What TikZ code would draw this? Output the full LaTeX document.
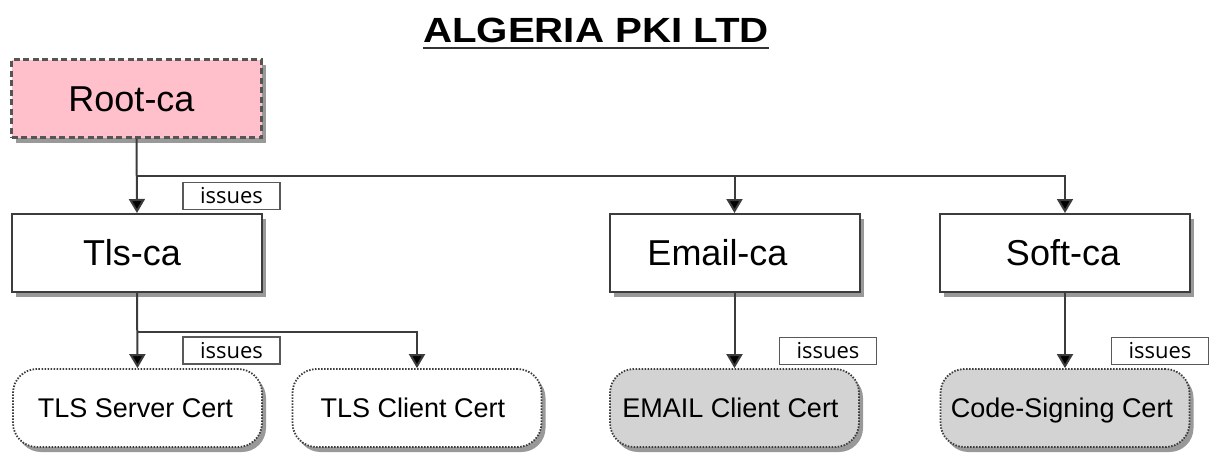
\documentclass[tikz,border=0pt]{standalone}
\usepackage{fontspec}
\setmainfont{Liberation Sans}
\newfontfamily\issuefont{Open Sans}
\usetikzlibrary{shadows,arrows.meta}
\definecolor{rootpink}{RGB}{255,192,203}
\definecolor{edgegrey}{RGB}{60,60,60}
\definecolor{dashgrey}{RGB}{85,85,85}
\definecolor{certgrey}{RGB}{211,211,211}
\tikzset{
  shad/.style={drop shadow={shadow xshift=4pt,shadow yshift=-5pt,fill=black,opacity=0.4}},
  cabox/.style={draw=edgegrey,line width=2pt,fill=white,shad,minimum width=250pt,minimum height=78pt,inner sep=0pt,text height=25pt,text depth=0pt,font=\fontsize{36}{40}\selectfont},
  rootbox/.style={cabox,draw=dashgrey,fill=rootpink,dash pattern=on 6pt off 3.5pt,line width=2.4pt},
  certbox/.style={draw=edgegrey,line width=1.8pt,dash pattern=on 1.5pt off 1.5pt,rounded corners=24pt,fill=white,shad,minimum width=249pt,minimum height=78pt,inner sep=0pt,text height=19.5pt,text depth=0pt,font=\fontsize{27}{30}\selectfont},
  certgreybox/.style={certbox,fill=certgrey},
  issuebox/.style={draw=edgegrey!85,line width=1.6pt,fill=white,minimum width=97pt,minimum height=27pt,inner sep=0pt,font=\issuefont\fontsize{22}{24}\selectfont},
  conn/.style={draw=edgegrey,line width=2pt},
  arr/.style={conn,-{Triangle[width=16pt,length=14pt,fill=black]}}
}
\begin{document}
\begin{tikzpicture}[x=1pt,y=-1pt]
\useasboundingbox (0,0) rectangle (1209,453);
\node[font=\bfseries\fontsize{35}{38}\selectfont,inner sep=0pt,anchor=base] (title) at (596,42) {\scalebox{1.15}[1]{ALGERIA PKI LTD}};
\draw[line width=2pt,draw=black!80] ([yshift=-6pt]title.base west) -- ([yshift=-6pt]title.base east);
\node[rootbox] (root) at (136.5,98.5) {Root-ca\hspace*{10pt}};
\node[cabox] (tls) at (137,253) {Tls-ca\hspace*{10pt}};
\node[cabox] (email) at (734.5,253) {Email-ca\hspace*{34pt}};
\node[cabox] (soft) at (1065,253) {Soft-ca\hspace*{4pt}};
\node[certbox] (tlss) at (137.5,408) {TLS Server Cert\hspace*{4pt}};
\node[certbox] (tlsc) at (417,408) {TLS Client Cert\hspace*{8pt}};
\node[certgreybox] (emc) at (734.5,408) {EMAIL Client Cert\hspace*{8pt}};
\node[certgreybox] (code) at (1065,408) {Code-Signing Cert\hspace*{6pt}};
\coordinate (j1) at (137,176);
\coordinate (j2) at (137,332);
\draw[arr] (root.south) -- (tls.north);
\draw[conn] (j1) -- (1065,176);
\draw[arr] (j1) -| (email.north);
\draw[arr] (j1) -| (soft.north);
\draw[arr] (tls.south) -- (tlss.north);
\draw[arr] (j2) -| (tlsc.north);
\draw[arr] (email.south) -- (emc.north);
\draw[arr] (soft.south) -- (code.north);
\node[issuebox] (i1) at (231.5,196) {issues};
\node[issuebox] (i2) at (231.5,350.5) {issues};
\node[issuebox] (i3) at (828,351) {issues};
\node[issuebox] (i4) at (1160,351) {issues};
\end{tikzpicture}
\end{document}
